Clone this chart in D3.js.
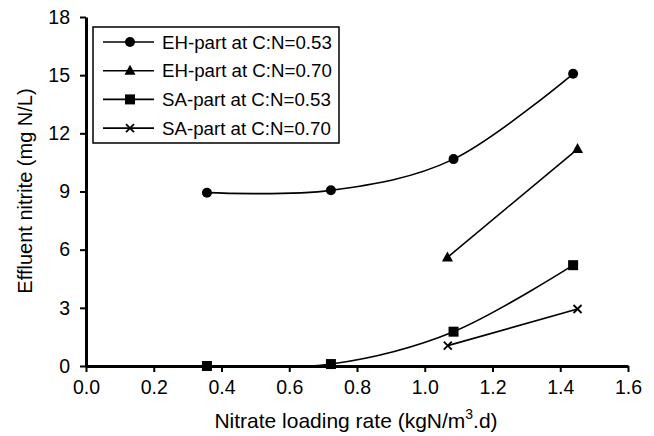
<!DOCTYPE html>
<html><head><meta charset="utf-8">
<script src="https://cdn.jsdelivr.net/npm/d3@7"></script>
<style>body{margin:0;background:#fff}svg{display:block;font-family:"Liberation Sans",Arial,sans-serif}</style>
</head><body>
<svg id="c" width="654" height="436"></svg>
<script>
const seriesNames = ["EH-part at C:N=0.53","EH-part at C:N=0.70","SA-part at C:N=0.53","SA-part at C:N=0.70"];
const markers = ["circle","triangle","square","cross"];
const ehX053 = [0.357, 0.723, 1.085, 1.438];
const ehY053 = [8.94, 9.06, 10.67, 15.07];
const ehX070 = [1.067, 1.451];
const ehY070 = [5.6, 11.19];
const saX053 = [0.357, 0.723, 1.085, 1.438];
const saY053 = [0.0, 0.1, 1.77, 5.2];
const saX070 = [1.068, 1.451];
const saY070 = [1.05, 2.94];
const xTicks = [0,0.2,0.4,0.6,0.8,1.0,1.2,1.4,1.6];
const yTicks = [0,3,6,9,12,15,18];

const svg = d3.select("#c");
const x = d3.scaleLinear().domain([0,1.6]).range([86,628]);
const y = d3.scaleLinear().domain([0,18]).range([366,17]);

const series = [
  {name:seriesNames[0], m:markers[0], xs:ehX053, ys:ehY053},
  {name:seriesNames[1], m:markers[1], xs:ehX070, ys:ehY070},
  {name:seriesNames[2], m:markers[2], xs:saX053, ys:saY053},
  {name:seriesNames[3], m:markers[3], xs:saX070, ys:saY070}
];

// axes
const xAxis = svg.append("g").attr("transform","translate(0,366)")
  .call(d3.axisBottom(x).tickValues(xTicks).tickFormat(d3.format(".1f")).tickSizeInner(6).tickSizeOuter(0).tickPadding(8));
const yAxis = svg.append("g").attr("transform","translate(86,0)")
  .call(d3.axisLeft(y).tickValues(yTicks).tickSizeInner(6).tickSizeOuter(0).tickPadding(10));
[xAxis,yAxis].forEach(g=>{
  g.select(".domain").attr("stroke","#000").attr("stroke-width",3);
  g.selectAll(".tick line").attr("stroke","#000").attr("stroke-width",2);
  g.selectAll(".tick text").attr("font-size",19.5).attr("fill","#000").attr("font-family","Liberation Sans, Arial, sans-serif");
});

function drawMarker(g, type, cx, cy) {
  if (type==="circle") g.append("circle").attr("cx",cx).attr("cy",cy).attr("r",5).attr("fill","#000");
  else if (type==="square") g.append("rect").attr("x",cx-5).attr("y",cy-5).attr("width",10).attr("height",10).attr("fill","#000");
  else if (type==="triangle") g.append("path").attr("d",`M${cx},${cy-6}L${cx+5.5},${cy+4}L${cx-5.5},${cy+4}Z`).attr("fill","#000");
  else g.append("path").attr("d",`M${cx-4},${cy-4}L${cx+4},${cy+4}M${cx-4},${cy+4}L${cx+4},${cy-4}`).attr("stroke","#000").attr("stroke-width",1.8).attr("fill","none");
}

const line = d3.line().x(d=>x(d[0])).y(d=>y(d[1])).curve(d3.curveCardinal.tension(0));
series.forEach(s=>{
  const pts = s.xs.map((v,i)=>[v,s.ys[i]]);
  svg.append("path").attr("d",line(pts)).attr("fill","none").attr("stroke","#000").attr("stroke-width",1.6);
  const g = svg.append("g");
  pts.forEach(p=>drawMarker(g, s.m, x(p[0]), y(p[1])));
});

// legend
const lg = svg.append("g");
lg.append("rect").attr("x",93).attr("y",27).attr("width",246).attr("height",116)
  .attr("fill","#fff").attr("stroke","#000").attr("stroke-width",1.5);
series.forEach((s,i)=>{
  const ly = 42 + i*28.7;
  lg.append("line").attr("x1",103).attr("x2",154).attr("y1",ly).attr("y2",ly).attr("stroke","#000").attr("stroke-width",1.6);
  drawMarker(lg, s.m, 130, ly);
  lg.append("text").attr("x",162).attr("y",ly).attr("dy","0.35em").attr("font-size",18.7).text(s.name);
});

// axis titles
const xt = svg.append("text").attr("x",356).attr("y",428).attr("text-anchor","middle").attr("font-size",21);
xt.append("tspan").text("Nitrate loading rate (kgN/m");
xt.append("tspan").attr("font-size",14).attr("dy",-9).text("3");
xt.append("tspan").attr("dy",9).text(".d)");
svg.append("text").attr("transform","translate(32,191) rotate(-90)").attr("text-anchor","middle").attr("font-size",20)
  .text("Effluent nitrite (mg N/L)");
</script>
</body></html>
